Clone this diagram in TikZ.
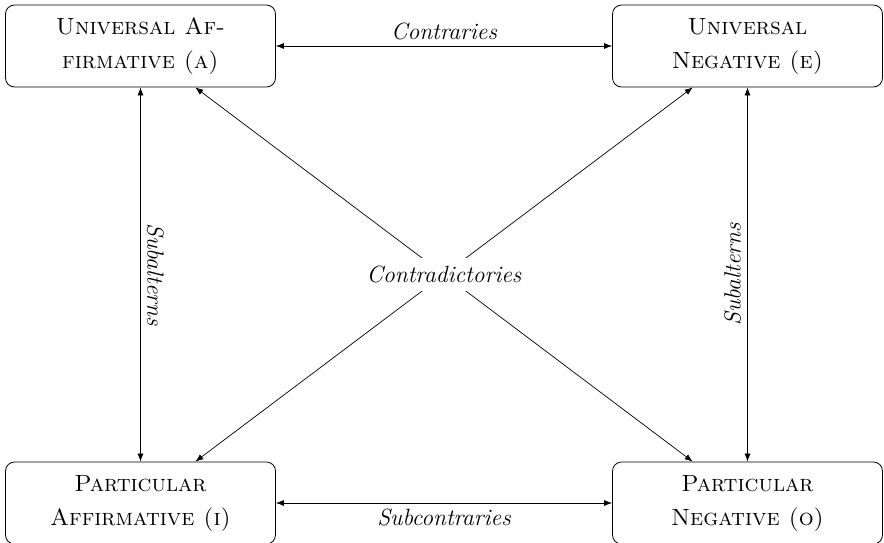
\documentclass[tikz,border=0pt]{standalone}
\usetikzlibrary{arrows.meta}
\begin{document}
\begin{tikzpicture}[x=1pt,y=-1pt,
  prop/.style={draw,rounded corners=9pt,line width=0.8pt,minimum width=270pt,minimum height=82pt,
    align=center,inner sep=0pt,font=\fontsize{23.5}{34}\selectfont\scshape},
  rel/.style={line width=0.7pt,{Latex[length=8pt,width=6pt]}-{Latex[length=8pt,width=6pt]}},
  lbl/.style={font=\fontsize{23.5}{28}\selectfont\itshape,inner sep=6pt},
  cross/.style={lbl,fill=white,inner xsep=4pt,inner ysep=8pt}]
  \useasboundingbox (0,0) rectangle (884,542);
  % the four corners of the square of opposition
  \node[prop] (A) at (140.5,46) {Universal Af-\\firmative (a)};
  \node[prop] (E) at (747.5,46) {Universal\\Negative (e)};
  \node[prop] (I) at (140.5,503) {Particular\\Affirmative (i)};
  \node[prop] (O) at (747.5,503) {Particular\\Negative (o)};
  % where the two diagonals cross
  \coordinate (C) at (444,274.5);
  % relations along the sides
  \draw[rel] (A) -- node[lbl,above] {Contraries} (E);
  \draw[rel] (I) -- node[lbl,below] {Subcontraries} (O);
  \draw[rel] (A) -- node[lbl,rotate=-90,anchor=south] {Subalterns} (I);
  \draw[rel] (E) -- node[lbl,rotate=90,anchor=south] {Subalterns} (O);
  % diagonals, with their label laid over the crossing
  \draw[rel] (A) -- (O);
  \draw[rel] (E) -- (I);
  \node[cross] (CL) at (C) {Contradictories};
\end{tikzpicture}
\end{document}
